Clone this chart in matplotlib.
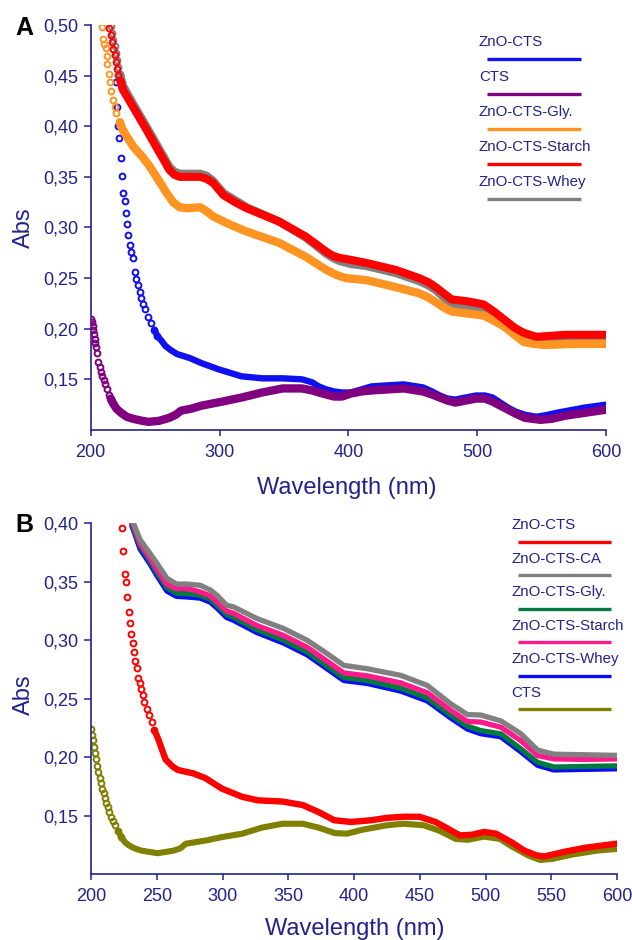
import matplotlib
matplotlib.use("Agg")
import matplotlib.pyplot as plt
from matplotlib.ticker import FuncFormatter, MultipleLocator

plt.rcParams['font.family'] = ['Liberation Sans', 'DejaVu Sans']

NAVY = '#22228c'

# ---------------- panel A data ----------------
# each curve: steep part drawn as open circles, rest as dense band
a_blue_steep_wl = [220.0, 220.6, 221.0, 222.0, 223.4, 224.4, 225.2, 226.3, 227.3, 228.0, 229.0, 230.4,
                   231.5, 232.9, 234.4, 235.5, 236.6, 238.0, 239.0, 240.5, 242.0, 244.5, 247.0, 249.5, 251.6]
a_blue_steep_abs = [0.444, 0.419, 0.400, 0.388, 0.369, 0.351, 0.334, 0.326, 0.314, 0.303, 0.293, 0.283,
                    0.276, 0.270, 0.256, 0.249, 0.243, 0.236, 0.230, 0.224, 0.219, 0.212, 0.206, 0.199, 0.193]
a_blue_wl = [249.5, 251.6, 255, 258, 262, 267, 272, 277, 286, 299, 317, 333, 349, 364, 372, 377, 383, 389,
             395, 402, 410, 418, 430, 443, 458, 465, 471, 477, 483, 491, 499, 506, 512, 518, 524, 530, 537,
             546, 555, 562, 583, 600]
a_blue_abs = [0.199, 0.193, 0.188, 0.183, 0.179, 0.175, 0.173, 0.171, 0.166, 0.160, 0.153, 0.151, 0.151,
              0.150, 0.147, 0.143, 0.140, 0.138, 0.137, 0.137, 0.140, 0.143, 0.144, 0.145, 0.142, 0.138,
              0.134, 0.131, 0.130, 0.132, 0.134, 0.134, 0.132, 0.127, 0.122, 0.118, 0.115, 0.113, 0.115,
              0.117, 0.122, 0.125]

a_purple_steep_wl = [200.5, 201.0, 201.5, 202.0, 202.5, 203.0, 203.5, 204.0, 205.0, 206.0, 207.0, 208.0,
                     209.0, 210.0, 211.0, 212.5, 214.0, 215.5, 217.0]
a_purple_steep_abs = [0.210, 0.207, 0.203, 0.199, 0.195, 0.190, 0.186, 0.182, 0.176, 0.167, 0.162, 0.157,
                      0.153, 0.149, 0.145, 0.140, 0.135, 0.131, 0.127]
a_purple_wl = [215.5, 217, 220, 223.5, 228, 233, 240, 245, 253, 261, 266, 270, 278, 286, 302, 317, 333,
               349, 364, 372, 377, 383, 389, 395, 402, 410, 418, 430, 443, 458, 465, 471, 477, 483, 491,
               499, 506, 512, 518, 524, 530, 537, 549, 558, 568, 600]
a_purple_abs = [0.131, 0.127, 0.121, 0.117, 0.113, 0.111, 0.109, 0.108, 0.109, 0.112, 0.115, 0.119, 0.121,
                0.124, 0.128, 0.132, 0.137, 0.141, 0.141, 0.139, 0.137, 0.135, 0.133, 0.133, 0.136, 0.138,
                0.139, 0.140, 0.141, 0.138, 0.135, 0.132, 0.129, 0.127, 0.129, 0.131, 0.131, 0.128, 0.124,
                0.120, 0.116, 0.112, 0.110, 0.111, 0.114, 0.120]

a_orange_steep_wl = [209.0, 209.5, 210.5, 212.0, 212.5, 213.0, 214.0, 215.0, 216.0, 217.0, 218.5, 220.0,
                     222.5, 225.0]
a_orange_steep_abs = [0.498, 0.486, 0.481, 0.477, 0.469, 0.461, 0.452, 0.444, 0.435, 0.426, 0.419, 0.413,
                      0.404, 0.396]
a_orange_wl = [222.5, 225, 233, 240, 246, 252, 259, 264, 269, 275, 285, 290, 295, 308, 321, 346, 367, 383,
               391, 398, 414, 437, 455, 462, 468, 474, 480, 493, 505, 513, 521, 529, 536, 544, 552, 575, 600]
a_orange_abs = [0.404, 0.396, 0.380, 0.370, 0.360, 0.348, 0.334, 0.325, 0.320, 0.319, 0.320, 0.316, 0.311,
                0.303, 0.296, 0.285, 0.271, 0.258, 0.253, 0.250, 0.248, 0.241, 0.235, 0.231, 0.226, 0.221,
                0.217, 0.215, 0.213, 0.208, 0.202, 0.194, 0.187, 0.185, 0.184, 0.185, 0.185]

a_red_steep_wl = [214.5, 215.5, 216.5, 217.5, 218.5, 219.5, 220.5, 221.5, 223.0, 224.5]
a_red_steep_abs = [0.497, 0.490, 0.483, 0.476, 0.470, 0.463, 0.457, 0.451, 0.445, 0.438]
a_red_wl = [223, 225, 232, 243.5, 252, 257, 261, 265, 269, 280, 285, 290, 295, 303, 312, 321, 346, 367,
            383, 388, 393, 402, 414, 437, 455, 462, 468, 474, 480, 493, 505, 513, 521, 529, 536, 546, 568,
            600]
a_red_abs = [0.445, 0.436, 0.421, 0.396, 0.377, 0.366, 0.357, 0.352, 0.350, 0.350, 0.350, 0.348, 0.344,
             0.332, 0.325, 0.319, 0.306, 0.291, 0.276, 0.272, 0.270, 0.268, 0.265, 0.258, 0.250, 0.246,
             0.241, 0.235, 0.229, 0.227, 0.224, 0.217, 0.209, 0.201, 0.196, 0.192, 0.194, 0.194]

a_gray_steep_wl = [215.5, 216.5, 217.5, 218.5, 219.5, 220.5, 221.5, 223.0, 224.5]
a_gray_steep_abs = [0.499, 0.492, 0.485, 0.479, 0.472, 0.465, 0.459, 0.452, 0.444]
a_gray_wl = [223, 225, 232, 243.5, 252, 257, 261, 265, 269, 280, 285, 290, 295, 303, 312, 321, 346, 367,
             383, 388, 393, 402, 414, 437, 455, 462, 468, 474, 480, 493, 505, 513, 521, 529, 536, 546, 568,
             600]
a_gray_abs = [0.450, 0.440, 0.424, 0.399, 0.380, 0.369, 0.360, 0.355, 0.353, 0.353, 0.353, 0.351, 0.346,
              0.334, 0.327, 0.320, 0.306, 0.290, 0.274, 0.270, 0.267, 0.264, 0.262, 0.255, 0.247, 0.243,
              0.238, 0.231, 0.225, 0.222, 0.219, 0.212, 0.205, 0.197, 0.192, 0.188, 0.189, 0.188]

a_labels = ['ZnO-CTS', 'CTS', 'ZnO-CTS-Gly.', 'ZnO-CTS-Starch', 'ZnO-CTS-Whey']
a_colors = ['#1010f0', '#800080', '#ff9422', '#ff0000', '#808080']

# ---------------- panel B data ----------------
b_red_steep_wl = [222.5, 223.4, 224.6, 225.9, 226.7, 227.7, 228.7, 229.7, 230.5, 231.8, 232.8, 233.8,
                  234.9, 236.1, 237.4, 237.9, 239.4, 240.6, 242.4, 244.2, 246.2, 248.2]
b_red_steep_abs = [0.405, 0.396, 0.376, 0.357, 0.350, 0.337, 0.324, 0.315, 0.305, 0.298, 0.290, 0.282,
                   0.276, 0.268, 0.263, 0.258, 0.253, 0.247, 0.241, 0.236, 0.230, 0.223]
b_red_wl = [248.2, 251.3, 253.8, 256.7, 262, 266, 272, 278, 287, 299.6, 315, 327, 345.6, 361, 373, 385,
            397.7, 413, 425, 437.5, 449.8, 462, 471, 480.5, 489.7, 498.9, 508, 520, 529.5, 538.7, 544.8,
            560, 575.5, 600]
b_red_abs = [0.223, 0.215, 0.207, 0.198, 0.192, 0.189, 0.1875, 0.186, 0.182, 0.173, 0.166, 0.163, 0.162,
             0.159, 0.153, 0.146, 0.1445, 0.146, 0.148, 0.149, 0.149, 0.1445, 0.139, 0.133, 0.1336, 0.136,
             0.1345, 0.127, 0.120, 0.116, 0.115, 0.119, 0.1224, 0.126]

b_olive_steep_wl = [200.3, 200.8, 201.5, 202.2, 203.0, 203.8, 204.6, 205.6, 206.6, 207.7, 208.7, 209.7,
                    210.7, 211.7, 212.8, 213.8, 215.0, 216.5, 218.4, 220.5, 223.0]
b_olive_steep_abs = [0.224, 0.219, 0.215, 0.209, 0.2035, 0.198, 0.192, 0.187, 0.182, 0.178, 0.173, 0.169,
                     0.165, 0.161, 0.157, 0.153, 0.149, 0.145, 0.142, 0.137, 0.1316]
b_olive_wl = [220.5, 223, 226, 229, 233, 238.3, 250.6, 262.8, 268, 272, 287.4, 299.6, 315, 330, 345.6,
              361, 373, 385.4, 394.6, 406.9, 425, 437.5, 453, 465, 477.4, 486.6, 498.9, 511, 520, 532.6,
              541.8, 551, 566, 584.7, 600]
b_olive_abs = [0.137, 0.1316, 0.127, 0.1244, 0.122, 0.120, 0.1178, 0.120, 0.122, 0.1259, 0.1287, 0.1316,
               0.1345, 0.1397, 0.143, 0.143, 0.1397, 0.135, 0.1345, 0.138, 0.1417, 0.143, 0.1417, 0.137,
               0.130, 0.1293, 0.132, 0.130, 0.1236, 0.1158, 0.112, 0.113, 0.1167, 0.120, 0.1215]

b_wl = [231, 233, 237.3, 245, 250, 257.7, 265, 272.9, 283, 290.7, 295.8, 303, 308.4, 326.2, 346.5, 364.3,
        379.6, 392.2, 410, 435.4, 455.8, 473.5, 486.2, 496.4, 511.6, 526.9, 539.6, 552, 575, 600]
b_gray_abs = [0.405, 0.398, 0.386, 0.374, 0.366, 0.353, 0.348, 0.348, 0.347, 0.343, 0.3385, 0.330, 0.3285,
              0.3185, 0.310, 0.300, 0.2885, 0.2785, 0.2756, 0.270, 0.2613, 0.2456, 0.2364, 0.236, 0.231,
              0.220, 0.206, 0.2025, 0.202, 0.2015]
b_pink_abs = [0.402, 0.396, 0.383, 0.370, 0.361, 0.348, 0.344, 0.3443, 0.3413, 0.338, 0.333, 0.325, 0.323,
              0.3125, 0.304, 0.294, 0.282, 0.272, 0.2695, 0.2635, 0.255, 0.240, 0.2305, 0.230, 0.2256,
              0.214, 0.2013, 0.1985, 0.198, 0.1985]
b_green_abs = [0.400, 0.394, 0.381, 0.3675, 0.358, 0.345, 0.340, 0.3398, 0.3385, 0.335, 0.330, 0.322,
               0.3195, 0.309, 0.300, 0.290, 0.278, 0.268, 0.2655, 0.259, 0.2505, 0.236, 0.2265, 0.2227,
               0.2199, 0.207, 0.1955, 0.1915, 0.192, 0.1925]
b_blue_abs = [0.398, 0.392, 0.378, 0.365, 0.3555, 0.342, 0.3375, 0.337, 0.336, 0.3325, 0.3275, 0.3195,
              0.317, 0.3065, 0.2975, 0.2875, 0.2755, 0.2655, 0.263, 0.2565, 0.248, 0.2335, 0.224, 0.220,
              0.2174, 0.2045, 0.193, 0.189, 0.1895, 0.190]

b_labels = ['ZnO-CTS', 'ZnO-CTS-CA', 'ZnO-CTS-Gly.', 'ZnO-CTS-Starch', 'ZnO-CTS-Whey', 'CTS']
b_colors = ['#ff0000', '#808080', '#007a3d', '#ff1a8c', '#0a0aff', '#808000']


def comma(v, pos):
    return f"{v:.2f}".replace('.', ',')


def style_axes(ax, ylim, ystep, xstep):
    ax.set_xlim(200, 600)
    ax.set_ylim(*ylim)
    ax.spines['top'].set_visible(False)
    ax.spines['right'].set_visible(False)
    for s in ('left', 'bottom'):
        ax.spines[s].set_color(NAVY)
        ax.spines[s].set_linewidth(1.2)
    ax.xaxis.set_major_locator(MultipleLocator(xstep))
    ax.set_yticks([round(ylim[0] + ystep * i, 2) for i in range(1, int(round((ylim[1] - ylim[0]) / ystep)) + 1)])
    ax.yaxis.set_major_formatter(FuncFormatter(comma))
    ax.tick_params(axis='x', colors=NAVY, labelsize=13, length=4, width=1.1, pad=6)
    ax.tick_params(axis='y', colors=NAVY, labelsize=13, length=5, width=1.1, pad=4)


def band(ax, wl, ab, color, lw, z):
    ax.plot(wl, ab, '-', color=color, lw=lw, solid_capstyle='round', solid_joinstyle='round', zorder=z)


def dots(ax, wl, ab, color, z):
    ax.plot(wl, ab, 'o', mfc='none', mec=color, ms=4.2, mew=1.4, zorder=z)


def legend(ax, labels, colors, tx, x0, x1, ty, ly, step):
    for i, (lab, col) in enumerate(zip(labels, colors)):
        ax.text(tx, ty - i * step, lab, transform=ax.transAxes, color=NAVY, fontsize=10.8,
                va='center', ha='left', clip_on=False)
        ax.plot([x0, x1], [ly - i * step] * 2, transform=ax.transAxes, color=col, lw=2.4,
                clip_on=False, solid_capstyle='butt')


fig = plt.figure(figsize=(6.32, 9.4), dpi=100)
ax1 = fig.add_axes([0.1435, 0.5426, 0.8154, 0.4308])
ax2 = fig.add_axes([0.1440, 0.0702, 0.8323, 0.3731])

# panel A
band(ax1, a_blue_wl, a_blue_abs, a_colors[0], 4.6, 2)
dots(ax1, a_blue_steep_wl, a_blue_steep_abs, a_colors[0], 2)
band(ax1, a_purple_wl, a_purple_abs, a_colors[1], 6.0, 3)
dots(ax1, a_purple_steep_wl, a_purple_steep_abs, a_colors[1], 3)
band(ax1, a_gray_wl, a_gray_abs, a_colors[4], 6.0, 4)
dots(ax1, a_gray_steep_wl, a_gray_steep_abs, a_colors[4], 4)
band(ax1, a_orange_wl, a_orange_abs, a_colors[2], 6.0, 5)
dots(ax1, a_orange_steep_wl, a_orange_steep_abs, a_colors[2], 5)
band(ax1, a_red_wl, a_red_abs, a_colors[3], 5.8, 6)
dots(ax1, a_red_steep_wl, a_red_steep_abs, a_colors[3], 6)
style_axes(ax1, (0.10, 0.50), 0.05, 100)
ax1.set_xlabel('Wavelength (nm)', color=NAVY, fontsize=17)
ax1.xaxis.set_label_coords(0.497, -0.116)
ax1.set_ylabel('Abs', color=NAVY, fontsize=17)
ax1.yaxis.set_label_coords(-0.108, 0.50)
legend(ax1, a_labels, a_colors, 0.7535, 0.769, 0.9515, 0.958, 0.916, 0.0864)
ax1.text(-0.129, 0.993, 'A', transform=ax1.transAxes, fontsize=18, fontweight='bold',
         color='black', ha='center', va='center')

# panel B
band(ax2, b_olive_wl, b_olive_abs, b_colors[5], 4.4, 2)
dots(ax2, b_olive_steep_wl, b_olive_steep_abs, b_colors[5], 2)
band(ax2, b_red_wl, b_red_abs, b_colors[0], 4.6, 3)
dots(ax2, b_red_steep_wl, b_red_steep_abs, b_colors[0], 3)
band(ax2, b_wl, b_blue_abs, b_colors[4], 3.8, 4)
band(ax2, b_wl, b_green_abs, b_colors[2], 3.8, 5)
band(ax2, b_wl, b_pink_abs, b_colors[3], 3.8, 6)
band(ax2, b_wl, b_gray_abs, b_colors[1], 3.8, 7)
style_axes(ax2, (0.10, 0.40), 0.05, 50)
ax2.set_xlabel('Wavelength (nm)', color=NAVY, fontsize=17)
ax2.xaxis.set_label_coords(0.502, -0.125)
ax2.set_ylabel('Abs', color=NAVY, fontsize=17)
ax2.yaxis.set_label_coords(-0.106, 0.51)
legend(ax2, b_labels, b_colors, 0.7985, 0.812, 0.9886, 0.995, 0.9467, 0.0955)
ax2.text(-0.127, 0.995, 'B', transform=ax2.transAxes, fontsize=18, fontweight='bold',
         color='black', ha='center', va='center')

fig.savefig('out.png', dpi=100)
